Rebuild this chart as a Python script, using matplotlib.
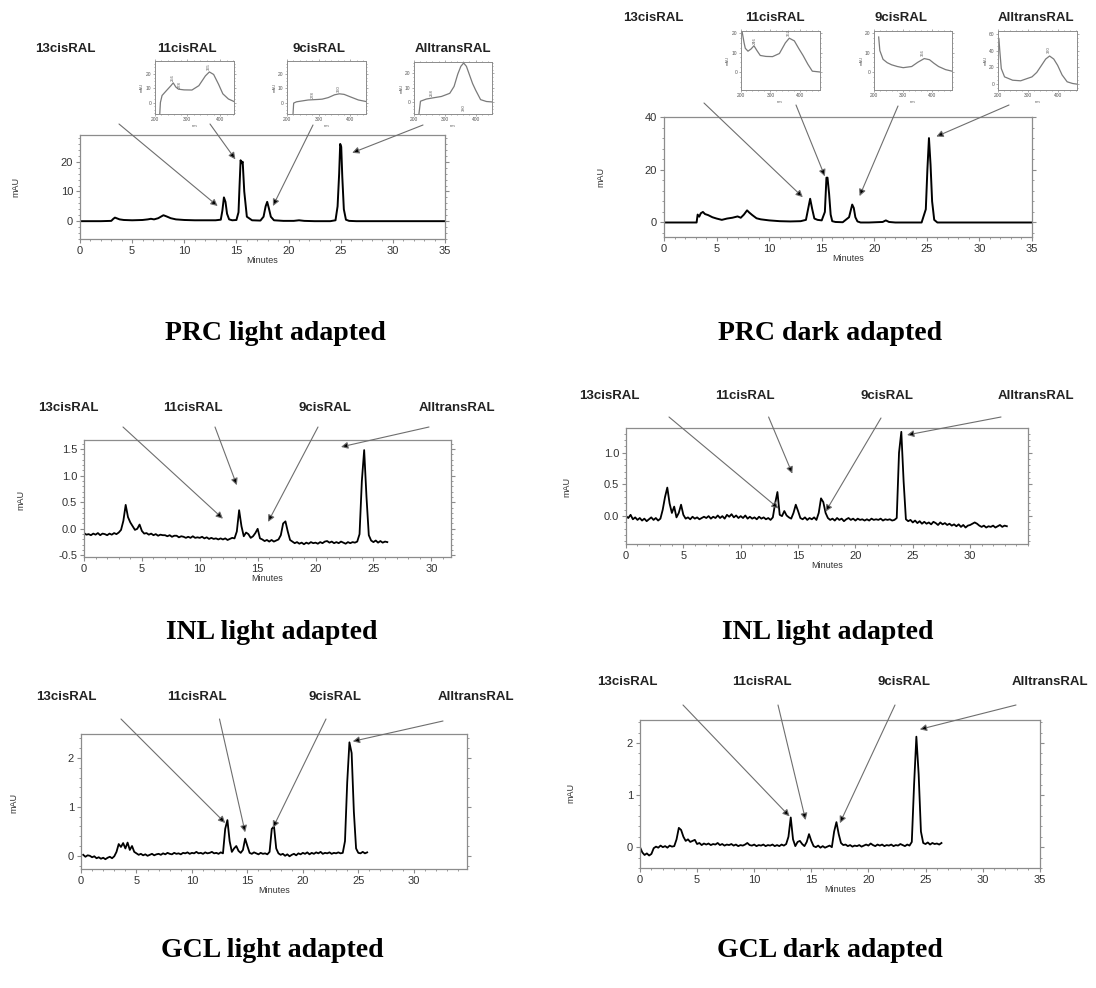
import numpy as np
import matplotlib
matplotlib.use('Agg')
import matplotlib.pyplot as plt
from matplotlib.ticker import MultipleLocator, AutoMinorLocator, FormatStrFormatter

plt.rcParams['font.family'] = ['Liberation Sans', 'DejaVu Sans']
plt.rcParams['axes.unicode_minus'] = False

##~~~~~~~~ Data ~~~~~~~~~~~~
peak_names = ['13cisRAL', '11cisRAL', '9cisRAL', 'AlltransRAL']
titles = ['PRC light adapted', 'PRC dark adapted', 'INL light adapted',
          'INL light adapted', 'GCL light adapted', 'GCL dark adapted']

# PRC light adapted (smooth trace, mAU)
prc_l_t = [0, 1, 2, 3.0, 3.2, 3.35, 3.5, 3.8, 4.2, 5, 6, 6.5, 6.8, 7.1, 7.5,
           7.8, 8.0, 8.3, 8.7, 9.2, 10, 11, 12, 13, 13.5, 13.65, 13.8, 13.95, 14.1, 14.3,
           14.6, 15.0, 15.2, 15.3, 15.4, 15.5, 15.6, 15.75, 16.0, 16.5, 17.3, 17.6, 17.8, 17.95, 18.1,
           18.3, 18.6, 19.5, 20.5, 21, 21.5, 22.5, 24.0, 24.5, 24.7, 24.85, 24.95, 25.05, 25.15, 25.3,
           25.5, 25.8, 26.5, 28, 30, 32, 35]
prc_l_y = [0, 0, 0, 0.1, 0.8, 1.2, 1.0, 0.6, 0.4, 0.3, 0.4, 0.6, 0.8, 0.6, 1.0,
           1.6, 2.0, 1.6, 1.0, 0.6, 0.4, 0.3, 0.3, 0.3, 0.5, 3.5, 8.0, 6.5, 2.5, 0.6,
           0.3, 0.4, 3.0, 12, 20.5, 19.5, 20, 10, 1.5, 0.3, 0.2, 1.5, 5, 6.5, 4.5,
           1.5, 0.3, 0.1, 0.1, 0.3, 0.1, 0, 0, 0.3, 5, 16, 26, 25, 15, 4,
           0.5, 0.1, 0, 0, 0, 0, 0]

# PRC dark adapted
prc_d_t = [0, 1, 2, 3.1, 3.2, 3.35, 3.5, 3.7, 3.9, 4.2, 4.6, 5.0, 5.5, 6.0, 6.5,
           7.0, 7.3, 7.6, 7.9, 8.1, 8.4, 8.8, 9.2, 10, 11, 12, 13, 13.5, 13.7, 13.9,
           14.1, 14.3, 14.6, 15.0, 15.3, 15.45, 15.55, 15.7, 15.85, 16.0, 16.3, 17.0, 17.6, 17.9, 18.05,
           18.2, 18.4, 18.7, 19.5, 20.8, 21.1, 21.4, 22, 24.5, 24.9, 25.05, 25.2, 25.35, 25.5, 25.7,
           26.0, 27, 30, 32.5, 35]
prc_d_y = [0, 0, 0, 0.0, 3.0, 2.2, 3.5, 4.0, 3.2, 2.8, 2.0, 1.5, 1.0, 1.5, 1.8,
           2.3, 1.8, 3.0, 4.6, 3.8, 2.8, 1.6, 1.2, 0.8, 0.5, 0.4, 0.5, 1.0, 5.0, 9.0,
           5.0, 1.5, 1.0, 0.8, 4.0, 17.0, 17.0, 11.0, 3.0, 0.5, 0.2, 0.1, 2.0, 6.8, 5.5,
           2.0, 0.4, 0.0, 0.0, 0.2, 0.8, 0.2, 0.0, 0.0, 5.0, 20.0, 32.0, 22.0, 8.0, 1.0,
           0.0, 0.0, 0.0, 0.0, 0.0]

# noisy traces, sampled every 0.2 min
step = 0.2
inl_l_t0 = 0.0
inl_l_y = [-0.08, -0.11, -0.10, -0.12, -0.09, -0.11, -0.08, -0.12, -0.09, -0.10,
           -0.12, -0.09, -0.11, -0.08, -0.10, -0.07, -0.02, 0.15, 0.45, 0.22,
           0.12, 0.05, -0.02, 0.00, 0.08, -0.04, -0.09, -0.08, -0.11, -0.09,
           -0.12, -0.10, -0.13, -0.11, -0.12, -0.12, -0.14, -0.12, -0.15, -0.13,
           -0.13, -0.16, -0.14, -0.15, -0.17, -0.15, -0.17, -0.14, -0.17, -0.16,
           -0.17, -0.15, -0.18, -0.16, -0.19, -0.17, -0.19, -0.18, -0.20, -0.18,
           -0.20, -0.18, -0.21, -0.19, -0.17, -0.18, -0.05, 0.35, 0.05, -0.14,
           -0.07, -0.10, -0.17, -0.14, -0.08, 0.00, -0.18, -0.20, -0.23, -0.21,
           -0.24, -0.21, -0.24, -0.22, -0.20, -0.12, 0.10, 0.14, -0.05, -0.21,
           -0.24, -0.27, -0.25, -0.28, -0.26, -0.29, -0.26, -0.28, -0.25, -0.27,
           -0.26, -0.28, -0.25, -0.27, -0.24, -0.23, -0.26, -0.24, -0.27, -0.25,
           -0.27, -0.24, -0.26, -0.28, -0.25, -0.27, -0.25, -0.26, -0.24, -0.10,
           0.90, 1.48, 0.60, -0.12, -0.22, -0.25, -0.22, -0.26, -0.23, -0.26,
           -0.24, -0.25]

inl_d_t0 = 0.0
inl_d_y = [0.00, -0.03, 0.02, -0.05, -0.02, -0.06, -0.03, -0.07, -0.04, -0.08,
           -0.05, -0.02, -0.06, -0.03, -0.07, -0.04, 0.10, 0.30, 0.45, 0.20,
           0.05, 0.15, -0.02, 0.05, 0.18, 0.02, -0.04, -0.02, -0.05, -0.01,
           -0.04, -0.02, -0.05, -0.03, -0.01, -0.03, 0.00, -0.04, -0.01, -0.03,
           0.01, -0.03, 0.00, -0.04, 0.02, -0.01, 0.03, -0.02, 0.01, -0.03,
           0.00, -0.03, 0.01, -0.04, -0.01, -0.04, -0.02, -0.05, -0.01, -0.04,
           -0.02, -0.05, -0.03, -0.06, -0.02, 0.20, 0.38, 0.02, 0.00, 0.08,
           0.01, -0.02, -0.04, 0.05, 0.18, 0.08, -0.03, -0.05, -0.02, -0.06,
           -0.03, -0.05, -0.02, -0.06, 0.05, 0.28, 0.22, 0.05, -0.03, -0.06,
           -0.04, -0.07, -0.03, -0.06, -0.04, -0.08, -0.05, -0.03, -0.06, -0.04,
           -0.07, -0.04, -0.06, -0.05, -0.07, -0.05, -0.07, -0.04, -0.06, -0.05,
           -0.06, -0.04, -0.07, -0.05, -0.06, -0.05, -0.07, -0.06, -0.03, 1.00,
           1.33, 0.55, -0.05, -0.08, -0.06, -0.10, -0.07, -0.11, -0.08, -0.12,
           -0.09, -0.12, -0.10, -0.13, -0.09, -0.11, -0.14, -0.10, -0.13, -0.11,
           -0.14, -0.12, -0.15, -0.13, -0.16, -0.13, -0.17, -0.14, -0.18, -0.15,
           -0.14, -0.12, -0.10, -0.12, -0.15, -0.17, -0.15, -0.18, -0.16, -0.17,
           -0.15, -0.18, -0.16, -0.14, -0.17, -0.15, -0.16]

gcl_l_t0 = 0.2
gcl_l_y = [0.02, -0.02, 0.01, 0.00, -0.03, -0.01, -0.05, -0.03, -0.06, -0.04,
           -0.07, -0.04, -0.02, -0.05, -0.01, 0.08, 0.24, 0.18, 0.26, 0.15,
           0.27, 0.12, 0.20, 0.08, 0.05, 0.02, 0.04, 0.01, 0.03, 0.00,
           0.02, 0.04, 0.01, 0.03, 0.04, 0.02, 0.05, 0.03, 0.06, 0.04,
           0.03, 0.06, 0.04, 0.05, 0.03, 0.06, 0.05, 0.07, 0.04, 0.06,
           0.05, 0.08, 0.05, 0.06, 0.04, 0.07, 0.05, 0.06, 0.08, 0.05,
           0.06, 0.04, 0.07, 0.05, 0.55, 0.73, 0.30, 0.08, 0.15, 0.20,
           0.10, 0.06, 0.12, 0.35, 0.20, 0.06, 0.04, 0.07, 0.05, 0.03,
           0.06, 0.04, 0.05, 0.03, 0.08, 0.55, 0.60, 0.15, 0.05, 0.02,
           0.04, 0.00, 0.03, -0.01, 0.02, 0.04, 0.01, 0.05, 0.03, 0.06,
           0.04, 0.07, 0.03, 0.06, 0.04, 0.07, 0.05, 0.08, 0.04, 0.06,
           0.05, 0.07, 0.04, 0.06, 0.05, 0.07, 0.05, 0.06, 0.30, 1.50,
           2.32, 2.10, 0.90, 0.15, 0.06, 0.05, 0.08, 0.05, 0.07]

gcl_d_t0 = 0.0
gcl_d_y = [0.00, -0.10, -0.15, -0.12, -0.16, -0.13, -0.02, 0.01, -0.01, 0.03,
           0.00, 0.02, -0.01, 0.03, 0.01, 0.02, 0.15, 0.37, 0.33, 0.20,
           0.12, 0.15, 0.10, 0.12, 0.14, 0.06, 0.08, 0.04, 0.07, 0.05,
           0.07, 0.04, 0.06, 0.05, 0.08, 0.04, 0.06, 0.03, 0.05, 0.04,
           0.06, 0.03, 0.05, 0.02, 0.04, 0.03, 0.05, 0.08, 0.04, 0.03,
           0.05, 0.02, 0.04, 0.03, 0.05, 0.02, 0.04, 0.03, 0.05, 0.02,
           0.04, 0.02, 0.05, 0.03, 0.06, 0.20, 0.57, 0.15, 0.02, 0.10,
           0.12, 0.06, 0.02, 0.10, 0.25, 0.12, 0.02, 0.00, 0.03, -0.01,
           0.02, -0.01, 0.01, 0.03, 0.00, 0.30, 0.48, 0.25, 0.08, 0.04,
           0.05, 0.02, 0.04, 0.01, 0.03, 0.02, 0.04, 0.01, 0.03, 0.05,
           0.03, 0.07, 0.04, 0.02, 0.05, 0.03, 0.05, 0.02, 0.04, 0.03,
           0.05, 0.02, 0.04, 0.03, 0.06, 0.04, 0.02, 0.05, 0.03, 0.10,
           1.20, 2.12, 1.40, 0.30, 0.08, 0.06, 0.09, 0.05, 0.08, 0.06,
           0.07, 0.05, 0.08]

# UV spectra of the PRC peaks (nm, mAU)
p1_s1_wl = [216, 218, 223, 236, 250, 257, 265, 273, 290, 314, 335, 355, 367, 380, 395, 408, 425, 442]
p1_s1_ab = [-8.2, 0, 5, 8.4, 12, 14, 11, 9.5, 9.0, 8.9, 12, 19, 21.8, 20, 13, 6.2, 2.5, 0.7]
p1_s2_wl = [219, 221, 230, 267, 300, 311, 330, 350, 365, 380, 400, 425, 449]
p1_s2_ab = [-8.2, -0.4, 0.5, 1.8, 2.2, 2.4, 3.5, 5.5, 6.2, 5.8, 4.0, 1.8, 0.7]
p1_s3_wl = [216, 221, 240, 258, 289, 316, 330, 342, 352, 361, 370, 379, 390, 400, 416, 435, 453]
p1_s3_ab = [-8.2, 0.7, 2.2, 2.9, 4.0, 6.2, 11, 19.6, 25, 27.3, 25, 19.6, 13, 8.4, 1.8, 0.5, 0.2]
p2_s1_wl = [205, 212, 216, 225, 235, 245, 255, 266, 285, 307, 330, 350, 363, 380, 395, 409, 425, 440, 464]
p2_s1_ab = [21.1, 15, 12.2, 10.7, 11.8, 13.5, 11, 8.5, 8.0, 7.9, 9.5, 15, 17.4, 16, 12, 8.5, 4, 0.4, 0]
p2_s2_wl = [216, 220, 231, 245, 260, 280, 300, 329, 350, 372, 390, 405, 421, 445, 467]
p2_s2_ab = [18, 11, 6.5, 4.8, 3.7, 2.8, 2.2, 2.8, 5, 6.9, 6.3, 4.5, 2.8, 1.2, 0.4]
p2_s3_wl = [203, 206, 211, 222, 249, 276, 314, 330, 346, 360, 373, 387, 400, 415, 432, 450, 465]
p2_s3_ab = [54.5, 40, 18.6, 8.7, 4.7, 4.0, 8.7, 14, 22.5, 30, 33.6, 30, 22.5, 11, 2.8, 0.8, 0]
##~~~~~~~~~~~~~~~~~~~~~~~~~~~

W, H = 1096, 988
fig = plt.figure(figsize=(W / 100, H / 100), dpi=100)
GRAY = '#8c8c8c'


def rect(l, t, r, b):
    return [l / W, 1 - b / H, (r - l) / W, (b - t) / H]


def fpos(x, y):
    return (x / W, 1 - y / H)


def chrom(box, t, y, xlim, ylim, xticks, yticks, fmt, lw=1.3):
    ax = fig.add_axes(rect(*box))
    ax.plot(t, y, color='black', lw=lw)
    ax.set_xlim(*xlim)
    ax.set_ylim(*ylim)
    ax.set_xticks(xticks)
    ax.set_yticks(yticks)
    ax.yaxis.set_major_formatter(FormatStrFormatter(fmt))
    ax.xaxis.set_minor_locator(MultipleLocator(1))
    ax.yaxis.set_minor_locator(AutoMinorLocator(5))
    for s in ax.spines.values():
        s.set_color(GRAY)
        s.set_linewidth(0.9)
    ax.tick_params(which='both', colors=GRAY, labelcolor='#333333', labelsize=8,
                   right=True, direction='out', pad=2)
    ax.tick_params(which='major', length=3)
    ax.tick_params(which='minor', length=1.5)
    ax.set_xlabel('Minutes', fontsize=6.5, color='#333333', labelpad=0)
    return ax


def inset(box, wl, ab, xlim, ylim, yticks, peaks):
    ax = fig.add_axes(rect(*box))
    ax.plot(wl, ab, color='#7a7a7a', lw=0.9)
    ax.set_xlim(*xlim)
    ax.set_ylim(*ylim)
    ax.set_xticks([200, 300, 400])
    ax.set_yticks(yticks)
    ax.xaxis.set_minor_locator(MultipleLocator(20))
    ax.yaxis.set_minor_locator(AutoMinorLocator(4))
    for s in ax.spines.values():
        s.set_color(GRAY)
        s.set_linewidth(0.7)
    ax.tick_params(which='both', colors=GRAY, labelcolor='#555555', labelsize=3.5,
                   length=1.5, pad=1, width=0.5, top=True, right=True)
    ax.tick_params(which='minor', length=1)
    ax.set_xlabel('nm', fontsize=3, color='#555555', labelpad=1)
    ax.set_ylabel('mAU', fontsize=3, color='#555555', labelpad=1)
    for x, yv, lab in peaks:
        ax.text(x, yv, lab, rotation=90, fontsize=3, ha='center', va='bottom', color='#555555')
    return ax


def arrows(ax, tails, tips):
    for (tx, ty), tip in zip(tails, tips):
        ax.annotate('', xy=tip, xycoords='data', xytext=fpos(tx, ty),
                    textcoords='figure fraction', annotation_clip=False,
                    arrowprops=dict(arrowstyle='-|>,head_length=0.4,head_width=0.2',
                                    ec='#6e6e6e', fc='black', lw=0.8,
                                    shrinkA=0, shrinkB=0, mutation_scale=10))


def names(xs, y):
    for x, n in zip(xs, peak_names):
        fig.text(*fpos(x, y), n, ha='center', va='center', fontsize=9.5,
                 weight='bold', color='#222222')


def ylab(x, y):
    fig.text(*fpos(x, y), 'mAU', rotation=90, ha='center', va='center',
             fontsize=6.5, color='#333333')


# ---- PRC light adapted
ax = chrom((80, 135, 445, 239), prc_l_t, prc_l_y, (0, 35), (-6, 29),
           range(0, 36, 5), [0, 10, 20], '%d', lw=1.4)
arrows(ax, [(119, 124), (210, 124), (313, 125), (423, 125)],
       [(13.2, 5.1), (14.9, 20.8), (18.5, 5.1), (26.1, 23)])
names([65, 187, 319, 453], 49)
ylab(16, 187)
inset((154.5, 61, 234, 114), p1_s1_wl, p1_s1_ab, (200, 442), (-8.2, 29.6), [0, 10, 20],
      [(257, 15, '256'), (278, 10, '278'), (365, 23, '365')])
inset((287, 61, 366, 114), p1_s2_wl, p1_s2_ab, (200, 449), (-8.2, 29.6), [0, 10, 20],
      [(280, 3.5, '278'), (362, 7.5, '360')])
inset((414, 62, 492, 114), p1_s3_wl, p1_s3_ab, (200, 453), (-8.2, 28), [0, 10, 20],
      [(258, 4.5, '258'), (362, -6, '380')])

# ---- PRC dark adapted
ax = chrom((664, 117, 1032, 237), prc_d_t, prc_d_y, (0, 35), (-5.5, 40),
           range(0, 36, 5), [0, 20, 40], '%d', lw=1.4)
arrows(ax, [(704, 103), (796, 105), (898, 106), (1009, 105)],
       [(13.2, 9.6), (15.3, 17.5), (18.6, 10), (25.9, 32.6)])
names([653, 775, 901, 1036], 18)
ylab(601, 177)
inset((740.5, 31, 819.5, 90), p2_s1_wl, p2_s1_ab, (200, 464), (-9.3, 21.1), [0, 10, 20],
      [(247, 14.5, '246'), (362, 18.5, '362')])
inset((874, 31, 952, 90), p2_s2_wl, p2_s2_ab, (200, 467), (-9.3, 21.1), [0, 10, 20],
      [(366, 8, '366')])
inset((998, 31, 1077, 90), p2_s3_wl, p2_s3_ab, (200, 465), (-7, 63.5), [0, 20, 40, 60],
      [(372, 37, '370')])

# ---- INL light adapted
t = inl_l_t0 + step * np.arange(len(inl_l_y))
ax = chrom((84, 440, 451, 557), t, inl_l_y, (0, 31.7), (-0.53, 1.67),
           range(0, 31, 5), [-0.5, 0.0, 0.5, 1.0, 1.5], '%.1f')
arrows(ax, [(123, 427), (215, 427), (318, 427), (429, 427)],
       [(12.0, 0.19), (13.2, 0.82), (15.9, 0.13), (22.2, 1.54)])
names([68.5, 192.5, 325, 456.6], 408)
ylab(21, 500)

# ---- INL light adapted (second)
t = inl_d_t0 + step * np.arange(len(inl_d_y))
ax = chrom((626, 428, 1027.5, 544), t, inl_d_y, (0, 35), (-0.44, 1.39),
           range(0, 31, 5), [0.0, 0.5, 1.0], '%.1f')
arrows(ax, [(669, 417), (768.6, 417), (881, 418), (1001, 417)],
       [(13.3, 0.12), (14.5, 0.67), (17.4, 0.07), (24.5, 1.28)])
names([609.5, 744.7, 887, 1036], 396)
ylab(567, 487)

# ---- GCL light adapted
t = gcl_l_t0 + step * np.arange(len(gcl_l_y))
ax = chrom((81, 734, 467, 869), t, gcl_l_y, (0, 34.8), (-0.27, 2.49),
           range(0, 31, 5), [0, 1, 2], '%d')
arrows(ax, [(121, 719), (219.5, 719), (326, 719), (443, 721)],
       [(13.0, 0.67), (14.8, 0.48), (17.3, 0.57), (24.5, 2.34)])
names([66.7, 196.7, 335.4, 476], 697)
ylab(14, 803)

# ---- GCL dark adapted
t = gcl_d_t0 + step * np.arange(len(gcl_d_y))
ax = chrom((640, 720, 1039.7, 868), t, gcl_d_y, (0, 35), (-0.4, 2.44),
           range(0, 36, 5), [0, 1, 2], '%d')
arrows(ax, [(683, 705), (778, 705), (895, 705), (1016, 705)],
       [(13.1, 0.59), (14.5, 0.52), (17.5, 0.46), (24.5, 2.26)])
names([627, 761.6, 903.5, 1049.6], 682)
ylab(571, 793)

# ---- panel titles
title_pos = [(275, 333), (830, 333), (272, 632), (828, 632), (272, 950), (830, 950)]
for (x, y), s in zip(title_pos, titles):
    fig.text(*fpos(x, y), s, ha='center', va='center', fontsize=20, weight='bold',
             family=['Liberation Serif', 'DejaVu Serif'])

fig.savefig('out.png', dpi=100)
